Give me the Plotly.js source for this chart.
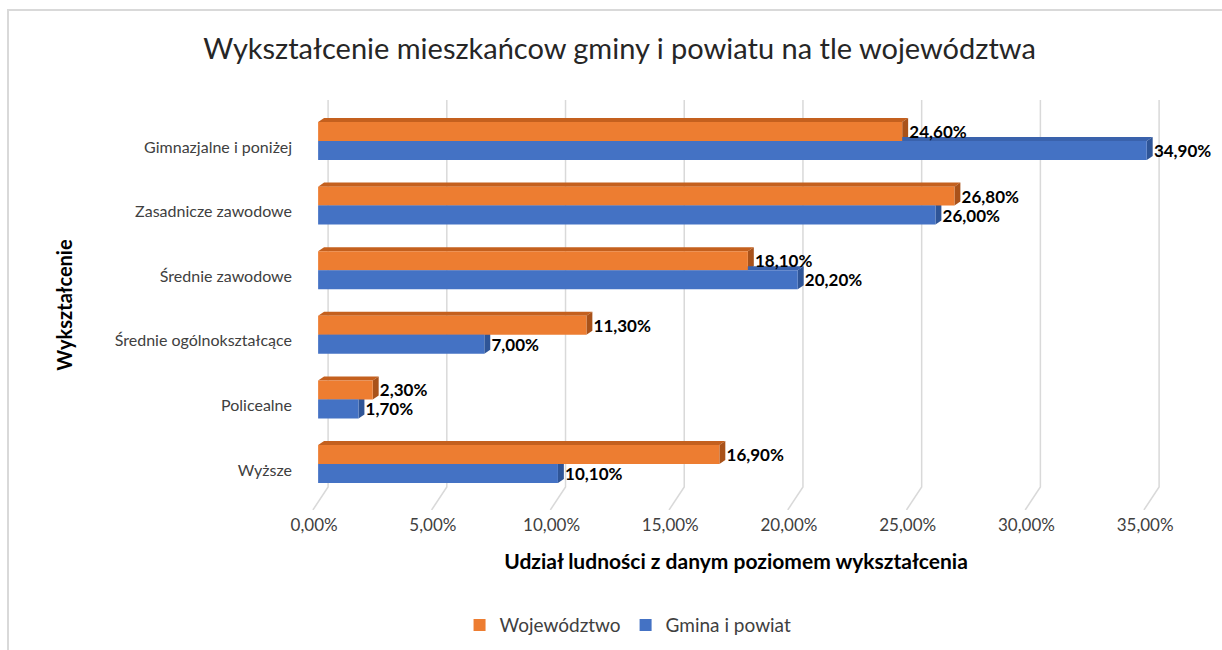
<!DOCTYPE html>
<html>
<head>
<meta charset="utf-8">
<script src="https://cdn.plot.ly/plotly-3.0.1.min.js"></script>
<style>
  html, body { margin: 0; padding: 0; background: #fff; }
  #wrap { position: relative; width: 1222px; height: 650px; overflow: hidden; }
  #chart { width: 1222px; height: 650px; }
  #frame { position: absolute; left: 7px; top: 9px; right: -10px; bottom: -10px;
           border-top: 2px solid #d9d9d9; border-left: 2px solid #d9d9d9; pointer-events: none; }
</style>
</head>
<body>
<div id="wrap">
  <div id="chart"></div>
  <div id="frame"></div>
</div>
<script>
// ---- data ----
const categories = [
  "Gimnazjalne i poniżej",
  "Zasadnicze zawodowe",
  "Średnie zawodowe",
  "Średnie ogólnokształcące",
  "Policealne",
  "Wyższe"
];
const wojewodztwo = [0.246, 0.268, 0.181, 0.113, 0.023, 0.169];
const gminaPowiat = [0.349, 0.260, 0.202, 0.070, 0.017, 0.101];
const seriesNames = ["Województwo", "Gmina i powiat"];
const xTickVals = [0, 0.05, 0.10, 0.15, 0.20, 0.25, 0.30, 0.35];

// ---- style ----
const FONT = "Lato, 'Open Sans', sans-serif";
const orange = "#ED7D31", orangeTop = "#C4601E", orangeSide = "#A9521A";
const blue = "#4472C4", blueTop = "#3A62AC", blueSide = "#2F5597";

const BARW = 0.294;        // width of each bar in category units
const DX = 0.0025;         // 3D depth (x, data units)
const DY = 0.062;          // 3D depth (y, category units)
const GX_BACK = 0.0042, GX_FRONT = -0.0022; // gridline back-wall/floor offsets
const Y_TOP = -0.635, Y_BACK = 5.356, Y_FRONT = 5.712;

const idx = categories.map((c, i) => i);

const traces = [
  { name: seriesNames[0], values: wojewodztwo, color: orange },
  { name: seriesNames[1], values: gminaPowiat, color: blue }
].map(s => ({
  type: "bar",
  orientation: "h",
  name: s.name,
  x: s.values,
  y: idx,
  marker: { color: s.color, line: { width: 0 } },
  texttemplate: " %{x:.2%}",
  textposition: "outside",
  constraintext: "none",
  textfont: { family: FONT, size: 17, color: "#000", weight: "bold" },
  cliponaxis: false,
  hoverinfo: "x+name"
}));

const shapes = [];
// gridlines (back wall + floor slant)
xTickVals.forEach(v => {
  shapes.push({
    type: "path", xref: "x", yref: "y", layer: "below",
    path: `M ${v + GX_BACK},${Y_TOP} L ${v + GX_BACK},${Y_BACK} L ${v + GX_FRONT},${Y_FRONT}`,
    line: { color: "#d9d9d9", width: 1.5 }
  });
});
// 3D faces
[wojewodztwo, gminaPowiat].forEach((vals, t) => {
  const topC = t === 0 ? orangeTop : blueTop;
  const sideC = t === 0 ? orangeSide : blueSide;
  vals.forEach((v, i) => {
    const top = i - BARW + t * BARW;
    const bot = top + BARW;
    shapes.push({
      type: "path", xref: "x", yref: "y", layer: "below",
      path: `M 0,${top} L ${DX},${top - DY} L ${v + DX},${top - DY} L ${v},${top} Z`,
      fillcolor: topC, line: { width: 0 }
    });
    shapes.push({
      type: "path", xref: "x", yref: "y", layer: "below",
      path: `M ${v},${top} L ${v + DX},${top - DY} L ${v + DX},${bot - DY} L ${v},${bot} Z`,
      fillcolor: sideC, line: { width: 0 }
    });
  });
});

const layout = {
  width: 1222, height: 650,
  margin: { l: 311, r: 61, t: 100, b: 140, autoexpand: false },
  paper_bgcolor: "rgba(0,0,0,0)",
  plot_bgcolor: "rgba(0,0,0,0)",
  separators: ", ",
  barmode: "group",
  bargap: 1 - 2 * BARW,
  bargroupgap: 0,
  font: { family: FONT, color: "#404040" },
  title: {
    text: "Wykształcenie mieszkańcow gminy i powiatu na tle województwa",
    font: { family: FONT, size: 29, color: "#262626" },
    x: 0.507, xanchor: "center", y: 0.925, yanchor: "middle"
  },
  xaxis: {
    range: [-0.003, 0.355],
    tickvals: xTickVals,
    tickformat: ".2%",
    showgrid: false, zeroline: false, showline: false,
    ticks: "",
    tickfont: { family: FONT, size: 17, color: "#404040" },
    ticklabelshift: -4,
    ticklabelstandoff: 3,
    title: {
      text: "Udział ludności z danym poziomem wykształcenia",
      font: { family: FONT, size: 21, color: "#000", weight: "bold" },
      standoff: 20
    }
  },
  yaxis: {
    type: "category",
    range: [Y_FRONT, Y_TOP],
    tickvals: idx,
    ticktext: categories,
    showgrid: false, zeroline: false, showline: false,
    ticks: "",
    tickfont: { family: FONT, size: 16, color: "#404040" },
    ticklabelstandoff: 18,
    ticklabelshift: -6,
    title: {
      text: "Wykształcenie",
      font: { family: FONT, size: 20, color: "#000", weight: "bold" },
      standoff: 36
    }
  },
  legend: {
    orientation: "h",
    x: 0.373, xanchor: "center",
    y: -0.281, yanchor: "middle",
    font: { family: FONT, size: 19, color: "#404040" },
    itemwidth: 30,
    traceorder: "normal"
  },
  showlegend: true,
  shapes: shapes
};

Plotly.newPlot("chart", traces, layout, { displayModeBar: false, staticPlot: true });
</script>
</body>
</html>
